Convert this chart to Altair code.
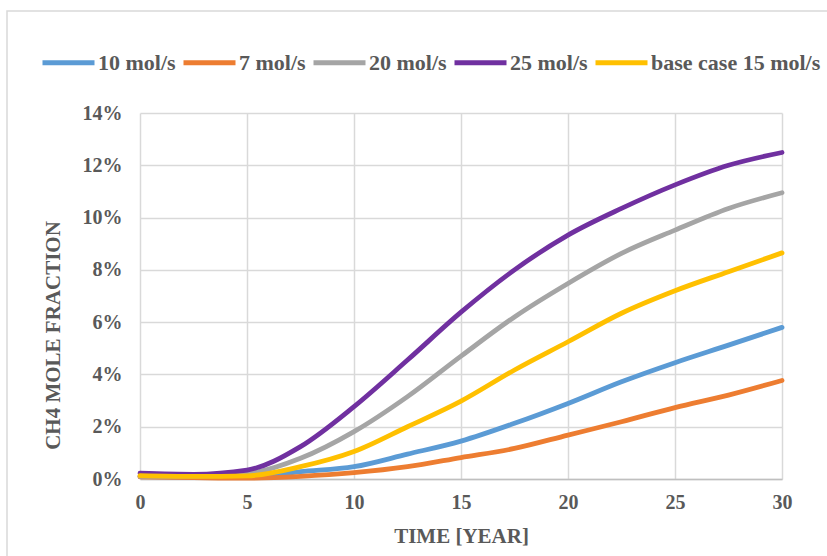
import altair as alt
import pandas as pd

# Simulation time (years)
years = [0, 2.5, 5, 7.5, 10, 12.5, 15, 17.5, 20, 22.5, 25, 27.5, 30]

# CH4 mole fraction (%) for each injection rate
rate_10 = [0.10, 0.07, 0.07, 0.28, 0.47, 0.95, 1.45, 2.13, 2.89, 3.72, 4.45, 5.12, 5.80]
rate_7 = [0.08, 0.05, 0.03, 0.10, 0.24, 0.47, 0.82, 1.17, 1.68, 2.19, 2.73, 3.21, 3.77]
rate_20 = [0.10, 0.10, 0.20, 0.79, 1.81, 3.15, 4.70, 6.20, 7.48, 8.63, 9.52, 10.35, 10.95]
rate_25 = [0.22, 0.18, 0.34, 1.24, 2.77, 4.55, 6.38, 8.00, 9.33, 10.35, 11.25, 12.00, 12.49]
rate_15 = [0.13, 0.10, 0.12, 0.47, 1.05, 2.00, 2.98, 4.17, 5.25, 6.34, 7.20, 7.93, 8.65]

series_names = ["10 mol/s", "7 mol/s", "20 mol/s", "25 mol/s", "base case 15 mol/s"]
series_values = [rate_10, rate_7, rate_20, rate_25, rate_15]
series_colors = ["#5B9BD5", "#ED7D31", "#A5A5A5", "#7030A0", "#FFC000"]

rows = []
for name, vals in zip(series_names, series_values):
    for t, v in zip(years, vals):
        rows.append({"time": t, "frac": v / 100.0, "series": name})
df = pd.DataFrame(rows)

FONT = "Liberation Serif"
TEXT = "#595959"

color = alt.Color(
    "series:N",
    scale=alt.Scale(domain=series_names, range=series_colors),
    legend=alt.Legend(
        title=None,
        orient="none",
        direction="horizontal",
        columns=5,
        legendX=-100,
        legendY=-79,
        symbolType="stroke",
        symbolSize=2704,
        symbolStrokeWidth=5,
        labelOffset=1,
        columnPadding=-3,
        padding=0,
        labelLimit=400,
        labelFont=FONT,
        labelFontSize=22,
        labelFontWeight="bold",
        labelColor=TEXT,
    ),
)

x_enc = alt.X(
    "time:Q",
    scale=alt.Scale(domain=[0, 30], nice=False),
    axis=alt.Axis(
        values=[0, 5, 10, 15, 20, 25, 30],
        title="TIME [YEAR]",
        titleY=57,
        titleBaseline="middle",
        labelPadding=13,
        labelFlush=False,
    ),
)
y_enc = alt.Y(
    "frac:Q",
    scale=alt.Scale(domain=[0, 0.14], nice=False),
    axis=alt.Axis(
        values=[0, 0.02, 0.04, 0.06, 0.08, 0.10, 0.12, 0.14],
        format=".0%",
        title="CH4 MOLE FRACTION",
        titleX=-87,
        titleY=222,
        titleBaseline="middle",
        labelPadding=18,
        labelFlush=False,
        domain=False,
    ),
)

# One layer per series so the draw order follows the legend order
layers = []
for name in series_names:
    layers.append(
        alt.Chart(df)
        .transform_filter(alt.datum.series == name)
        .mark_line(interpolate="monotone", strokeWidth=4.8, strokeCap="round")
        .encode(x=x_enc, y=y_enc, color=color)
    )

# Outer chart frame
frame = (
    alt.Chart(alt.Data(values=[{}]))
    .mark_rect(fillOpacity=0, stroke="#D9D9D9", strokeWidth=1.5)
    .encode(
        x=alt.value(-133),
        y=alt.value(-102),
        x2=alt.value(760),
        y2=alt.value(600),
    )
)

chart = (
    alt.layer(frame, *layers)
    .properties(
        width=642,
        height=366,
        autosize=alt.AutoSizeParams(type="none"),
        padding={"left": 140, "top": 113, "right": 45, "bottom": 77},
        background="white",
    )
    .configure_view(stroke=None)
    .configure_axis(
        labelFont=FONT,
        labelFontSize=20,
        labelFontWeight="bold",
        labelColor=TEXT,
        titleFont=FONT,
        titleFontSize=21,
        titleFontWeight="bold",
        titleColor=TEXT,
        gridColor="#D9D9D9",
        gridWidth=1.5,
        domainColor="#BFBFBF",
        domainWidth=1.5,
        ticks=False,
    )
)

chart.save("out.html", embed_options={"renderer": "svg", "actions": False})
